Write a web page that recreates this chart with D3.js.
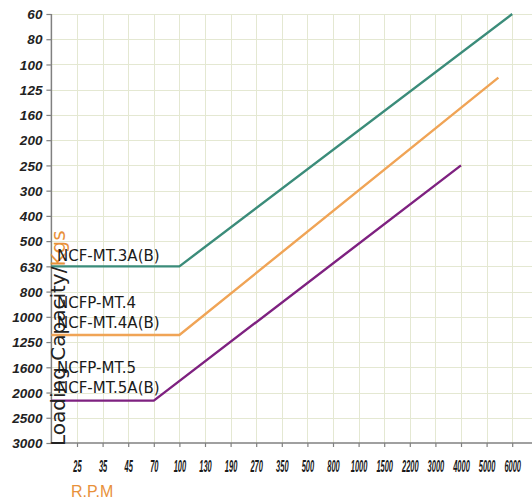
<!DOCTYPE html>
<html>
<head>
<meta charset="utf-8">
<script src="https://cdn.jsdelivr.net/npm/d3@7"></script>
<style>
  html, body { margin: 0; padding: 0; background: #fff; }
  svg { display: block; }
</style>
</head>
<body>
<svg id="chart" width="532" height="501"></svg>
<script>
// ---- data ----
const yTickLabels = [60, 80, 100, 125, 160, 200, 250, 300, 400, 500, 630, 800, 1000, 1250, 1600, 2000, 2500, 3000];
const xTickLabels = [25, 35, 45, 70, 100, 130, 190, 270, 350, 500, 800, 1000, 1500, 2200, 3000, 4000, 5000, 6000];
const xOrigin = 15; // unlabeled position at the y axis

const seriesNames = ["NCF-MT.3A(B)", "NCFP-MT.4 / NCF-MT.4A(B)", "NCFP-MT.5 / NCF-MT.5A(B)"];
const seriesMT3 = [[xOrigin, 630], [100, 630], [6000, 60]];
const seriesMT4 = [[xOrigin, 1180], [100, 1180], [5460, 113]];
const seriesMT5 = [[xOrigin, 2160], [70, 2160], [4000, 250]];
const seriesColors = ["#3b8c7a", "#f0a456", "#7e2180"];

const labelMT3 = ["NCF-MT.3A(B)"];
const labelMT4 = ["NCFP-MT.4", "NCF-MT.4A(B)"];
const labelMT5 = ["NCFP-MT.5", "NCF-MT.5A(B)"];

// ---- layout ----
const svg = d3.select("#chart");
const mLeft = 51.4, mTop = 14, mBottom = 443, mRight = 532;
const yStep = (mBottom - mTop) / (yTickLabels.length - 1);
const xStep = 25.6;

const y = d3.scaleLinear()
  .domain(yTickLabels)
  .range(yTickLabels.map((d, i) => mTop + i * yStep));
const xDomain = [xOrigin].concat(xTickLabels);
const x = d3.scaleLinear()
  .domain(xDomain)
  .range(xDomain.map((d, i) => mLeft + i * xStep));

// grid
const grid = svg.append("g").attr("stroke", "#e4e8d2").attr("stroke-width", 1);
grid.selectAll("line.h").data(yTickLabels.slice(0, -1)).join("line")
  .attr("x1", mLeft).attr("x2", mRight)
  .attr("y1", d => Math.round(y(d)) + 0.5).attr("y2", d => Math.round(y(d)) + 0.5);
grid.selectAll("line.v").data(xTickLabels).join("line")
  .attr("x1", d => Math.round(x(d)) + 0.5).attr("x2", d => Math.round(x(d)) + 0.5)
  .attr("y1", mTop).attr("y2", mBottom);

// axes
const yAxis = svg.append("g")
  .attr("transform", `translate(${mLeft},0)`)
  .call(d3.axisLeft(y).tickValues(yTickLabels).tickSize(5).tickPadding(4).tickFormat(d => d));
yAxis.select(".domain").attr("stroke", "#808080").attr("stroke-width", 1.5).attr("d", `M0,${mTop}V${mBottom}`);
yAxis.selectAll(".tick line").attr("stroke", "#808080").attr("stroke-width", 1.2);
yAxis.selectAll(".tick text")
  .attr("font-family", "Liberation Sans, Arial, sans-serif")
  .attr("font-size", 13.5).attr("font-weight", "bold").attr("font-style", "italic")
  .attr("fill", "#222").attr("dy", "0.35em");

const xAxis = svg.append("g")
  .attr("transform", `translate(0,${mBottom})`)
  .call(d3.axisBottom(x).tickValues(xTickLabels).tickSize(4).tickFormat(d => d));
xAxis.select(".domain").attr("stroke", "#808080").attr("stroke-width", 1.5).attr("d", `M${mLeft},0H${mRight}`);
xAxis.selectAll(".tick line").attr("stroke", "#808080").attr("stroke-width", 1.2);
xAxis.selectAll(".tick text").remove();
xAxis.selectAll(".tick").append("text")
  .attr("transform", "translate(0,29) scale(0.44,1)")
  .attr("text-anchor", "middle")
  .attr("font-family", "Liberation Sans, Arial, sans-serif")
  .attr("font-size", 17).attr("font-style", "italic").attr("font-weight", "bold")
  .attr("fill", "#1a1a1a")
  .text(d => d);

// lines
const line = d3.line().x(d => x(d[0])).y(d => y(d[1]));
[seriesMT3, seriesMT4, seriesMT5].forEach((s, i) => {
  svg.append("path").datum(s)
    .attr("fill", "none")
    .attr("stroke", seriesColors[i])
    .attr("stroke-width", 2.4)
    .attr("d", line);
});

// axis titles
const yTitle = svg.append("text")
  .attr("transform", "translate(65,446) rotate(-90)")
  .attr("font-family", "DejaVu Sans, Verdana, sans-serif")
  .attr("font-size", 20);
yTitle.append("tspan").attr("fill", "#222").text("Loading Capacity/");
yTitle.append("tspan").attr("fill", "#e8913a").text("Kgs");

svg.append("text")
  .attr("x", 71).attr("y", 497)
  .attr("font-family", "Liberation Sans, Arial, sans-serif")
  .attr("font-size", 16).attr("fill", "#e8913a")
  .text("R.P.M");

// series labels
const labelFont = "DejaVu Sans, Verdana, sans-serif";
function addLabels(lines, baseY) {
  lines.forEach((t, i) => {
    svg.append("text")
      .attr("x", 57).attr("y", baseY + i * 20)
      .attr("font-family", labelFont).attr("font-size", 15)
      .attr("fill", "#1a1a1a")
      .text(t);
  });
}
addLabels(labelMT3, 261);
addLabels(labelMT4, 308);
addLabels(labelMT5, 373);
</script>
</body>
</html>
